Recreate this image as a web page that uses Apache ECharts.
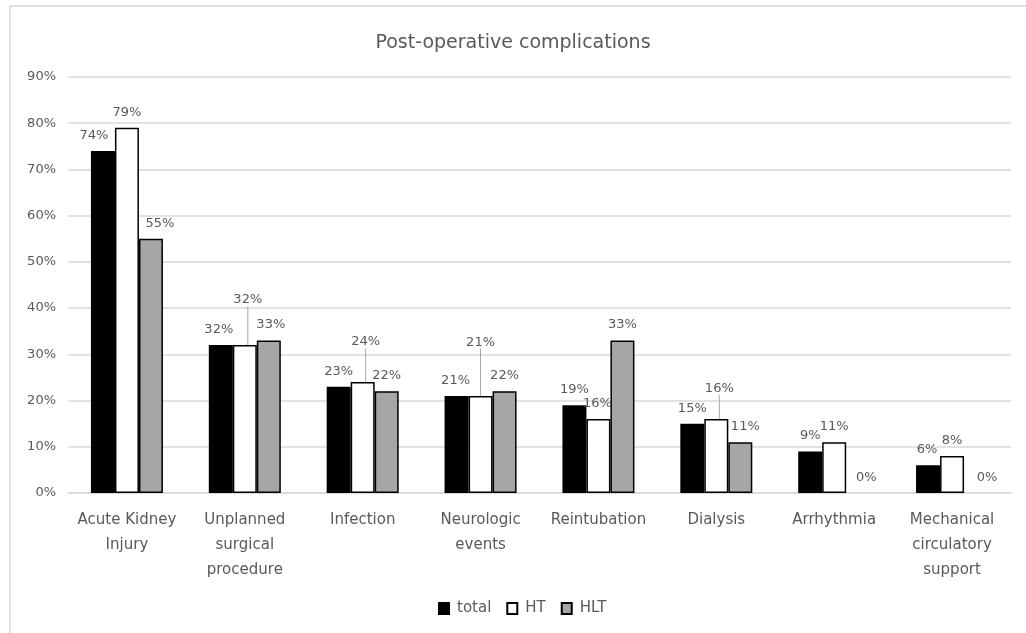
<!DOCTYPE html>
<html>
<head>
<meta charset="utf-8">
<script src="https://cdn.jsdelivr.net/npm/echarts@6/dist/echarts.min.js"></script>
<style>
  html, body { margin: 0; padding: 0; background: #ffffff; }
  #chart { width: 1026px; height: 633px; }
</style>
</head>
<body>
<div id="chart"></div>
<script>
// Post-operative complication rates (%) by transplant group
const categories = [
  'Acute Kidney\nInjury',
  'Unplanned\nsurgical\nprocedure',
  'Infection',
  'Neurologic\nevents',
  'Reintubation',
  'Dialysis',
  'Arrhythmia',
  'Mechanical\ncirculatory\nsupport'
];
const seriesNames = ['total', 'HT', 'HLT'];
const totalValues = [74, 32, 23, 21, 19, 15, 9, 6];
const htValues    = [79, 32, 24, 21, 16, 16, 11, 8];
const hltValues   = [55, 33, 22, 22, 33, 11, 0, 0];
const yTicks = [0, 10, 20, 30, 40, 50, 60, 70, 80, 90];

const FONT = 'DejaVu Sans';
const TEXT = '#595959';

// Label nudges [dx, dy] per series, so crowded labels sit apart
const labelShift = {
  total: [[-9, 0], [-2, 0], [0, 0], [-1, 0], [0, 0], [0, 0], [0, 0], [-1, 0]],
  HT:    [[0, 0], [3, -30], [3, -25], [0, -38], [-1, 0], [3, -15], [0, 0], [0, 0]],
  HLT:   [[9, 0], [2, 0], [0, 0], [0, 0], [0, 0], [5, 0], [8, 0], [11, 0]]
};
const fills = { total: '#000000', HT: '#ffffff', HLT: '#a6a6a6' };
const leader = { show: true, lineStyle: { color: '#a6a6a6', width: 1 } };

function makeSeries(name, values) {
  return {
    name: name,
    type: 'bar',
    barWidth: 24,
    barGap: '0%',
    itemStyle: { color: fills[name], borderColor: '#000000', borderWidth: 1.5 },
    label: {
      show: true,
      position: 'top',
      distance: 9,
      formatter: '{c}%',
      color: TEXT,
      fontFamily: FONT,
      fontSize: 13
    },
    labelLine: { show: false, lineStyle: { color: '#a6a6a6', width: 1 } },
    labelLayout: function (p) {
      const s = labelShift[name][p.dataIndex];
      return { dx: s[0], dy: s[1] };
    },
    data: values.map(function (v, i) {
      const item = { value: v };
      if (labelShift[name][i][1] !== 0) item.labelLine = leader;
      // an empty bar leaves no outline on the axis
      if (v === 0) item.itemStyle = { borderWidth: 0 };
      return item;
    })
  };
}

const chart = echarts.init(document.getElementById('chart'), null, { renderer: 'canvas' });
chart.setOption({
  animation: false,
  backgroundColor: '#ffffff',
  graphic: [{
    type: 'rect',
    shape: { x: 10, y: 6, width: 1040, height: 660 },
    style: { fill: 'none', stroke: '#d9d9d9', lineWidth: 1.5 },
    silent: true,
    z: -1
  }],
  title: {
    text: 'Post-operative complications',
    left: 'center',
    top: 29,
    textStyle: { color: TEXT, fontFamily: FONT, fontSize: 19, fontWeight: 'normal' }
  },
  legend: {
    data: seriesNames,
    left: 433,
    top: 596,
    itemWidth: 10,
    itemHeight: 11,
    itemGap: 15,
    icon: 'rect',
    textStyle: { color: TEXT, fontFamily: FONT, fontSize: 15, padding: [0, 0, 0, 3] }
  },
  grid: { left: 68, right: 15, top: 77, bottom: 140, containLabel: false },
  xAxis: {
    type: 'category',
    data: categories,
    axisLine: { show: true, lineStyle: { color: '#d9d9d9', width: 1.5 } },
    axisTick: { show: false },
    axisLabel: {
      color: TEXT,
      fontFamily: FONT,
      fontSize: 15,
      lineHeight: 25,
      margin: 15,
      interval: 0
    }
  },
  yAxis: {
    type: 'value',
    min: yTicks[0],
    max: yTicks[yTicks.length - 1],
    interval: yTicks[1] - yTicks[0],
    axisLine: { show: false },
    axisTick: { show: false },
    splitLine: { lineStyle: { color: '#d9d9d9', width: 1.5 } },
    axisLabel: {
      color: TEXT,
      fontFamily: FONT,
      fontSize: 13,
      margin: 12,
      formatter: '{value}%'
    }
  },
  series: [
    makeSeries('total', totalValues),
    makeSeries('HT', htValues),
    makeSeries('HLT', hltValues)
  ]
});
</script>
</body>
</html>
